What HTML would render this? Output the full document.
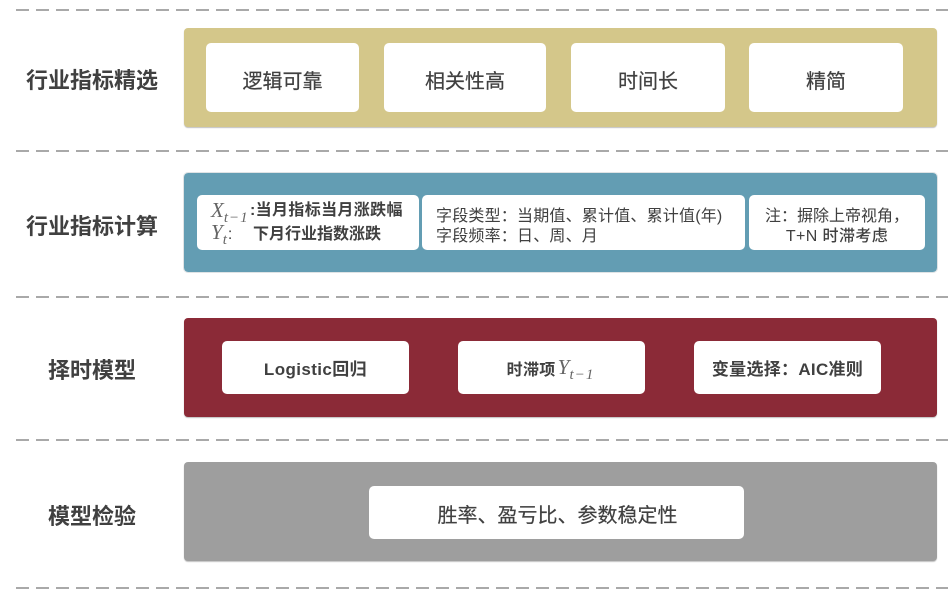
<!DOCTYPE html>
<html lang="zh">
<head>
<meta charset="utf-8">
<style>
html,body{margin:0;padding:0;background:#fff}
#c{position:relative;width:948px;height:597px;overflow:hidden;background:#fff;font-family:"Liberation Sans","Noto Sans CJK SC",sans-serif;color:#404040;filter:blur(.35px)}
.d{position:absolute;left:16px;width:932px;height:2px;background:repeating-linear-gradient(90deg,#a9a9a9 0 13px,transparent 13px 20px)}
.p{position:absolute;left:184px;width:753px;height:99px;border-radius:4px;box-shadow:0 1px 1px rgba(0,0,0,.25)}
.b{position:absolute;background:#fff;border-radius:5px;display:flex;align-items:center;justify-content:center;text-align:center;white-space:nowrap;box-sizing:border-box}
.l{position:absolute;width:184px;left:0;text-align:center;font-size:22px;font-weight:bold;line-height:28px;white-space:nowrap}
.t20{font-size:20px;-webkit-text-stroke:.2px #404040;padding-top:2px}
.t16{font-size:16px;line-height:20px;letter-spacing:.2px}
.s{font-family:"Liberation Serif","Noto Serif CJK SC",serif;font-style:italic;font-weight:normal;color:#666}
sub{font-size:15px;line-height:0;vertical-align:-5px;letter-spacing:1px}
</style>
</head>
<body>
<div id="c">
<div class="d" style="top:9px"></div>
<div class="d" style="top:150px"></div>
<div class="d" style="top:296px"></div>
<div class="d" style="top:439px"></div>
<div class="d" style="top:587px"></div>

<div class="l" style="left:0;top:67px">行业指标精选</div>
<div class="l" style="left:0;top:213px">行业指标计算</div>
<div class="l" style="left:0;top:357px">择时模型</div>
<div class="l" style="left:0;top:503px">模型检验</div>

<div class="p" style="top:28px;background:#d4c78a"></div>
<div class="b t20" style="left:206px;top:43px;width:153px;height:69px;padding-top:3px">逻辑可靠</div>
<div class="b t20" style="left:384px;top:43px;width:162px;height:69px;padding-top:3px">相关性高</div>
<div class="b t20" style="left:571px;top:43px;width:154px;height:69px;padding-top:3px">时间长</div>
<div class="b t20" style="left:749px;top:43px;width:154px;height:69px;padding-top:3px">精简</div>

<div class="p" style="top:173px;background:#639db3;outline:1px solid #dfe3e5;box-shadow:none"></div>
<div class="b" style="left:197px;top:195px;width:222px;height:55px;display:block;text-align:left;font-size:16px;font-weight:bold">
<div style="position:absolute;left:14px;top:3px;line-height:24px"><span class="s" style="font-size:21px">X<sub>t−1</sub></span></div>
<div style="position:absolute;left:53px;top:4px;line-height:24px;letter-spacing:.35px">:当月指标当月涨跌幅</div>
<div style="position:absolute;left:14px;top:25px;line-height:24px"><span class="s" style="font-size:21px">Y<sub>t</sub></span><span style="font-weight:normal">:</span></div>
<div style="position:absolute;left:56px;top:28px;line-height:24px">下月行业指数涨跌</div>
</div>
<div class="b t16" style="left:422px;top:195px;width:323px;height:55px;display:block;text-align:left;padding:10px 0 0 14px"><div style="position:relative;top:2px">字段类型：当期值、累计值、累计值(年)<br>字段频率：日、周、月</div></div>
<div class="b t16" style="left:749px;top:195px;width:176px;height:55px;display:block;padding:12px 0 0 0;letter-spacing:0">注：摒除上帝视角，<br><span style="font-weight:500;letter-spacing:.4px">T+N 时滞考虑</span></div>

<div class="p" style="top:318px;background:#8b2a37"></div>
<div class="b" style="left:222px;top:341px;width:187px;height:53px;font-size:17px;font-weight:bold;letter-spacing:.4px;padding-bottom:1px">Logistic回归</div>
<div class="b" style="left:458px;top:341px;width:187px;height:53px;font-size:16px;font-weight:bold;padding-bottom:0;letter-spacing:.3px;padding-right:2px">时滞项<span class="s" style="font-size:21px;margin-left:2px">Y<sub>t−1</sub></span></div>
<div class="b" style="left:694px;top:341px;width:187px;height:53px;font-size:17px;font-weight:bold;letter-spacing:.3px;padding-bottom:1px">变量选择：AIC准则</div>

<div class="p" style="top:462px;background:#9e9e9e"></div>
<div class="b t20" style="left:369px;top:486px;width:375px;height:53px;padding-left:2px">胜率、盈亏比、参数稳定性</div>
</div>
</body>
</html>
